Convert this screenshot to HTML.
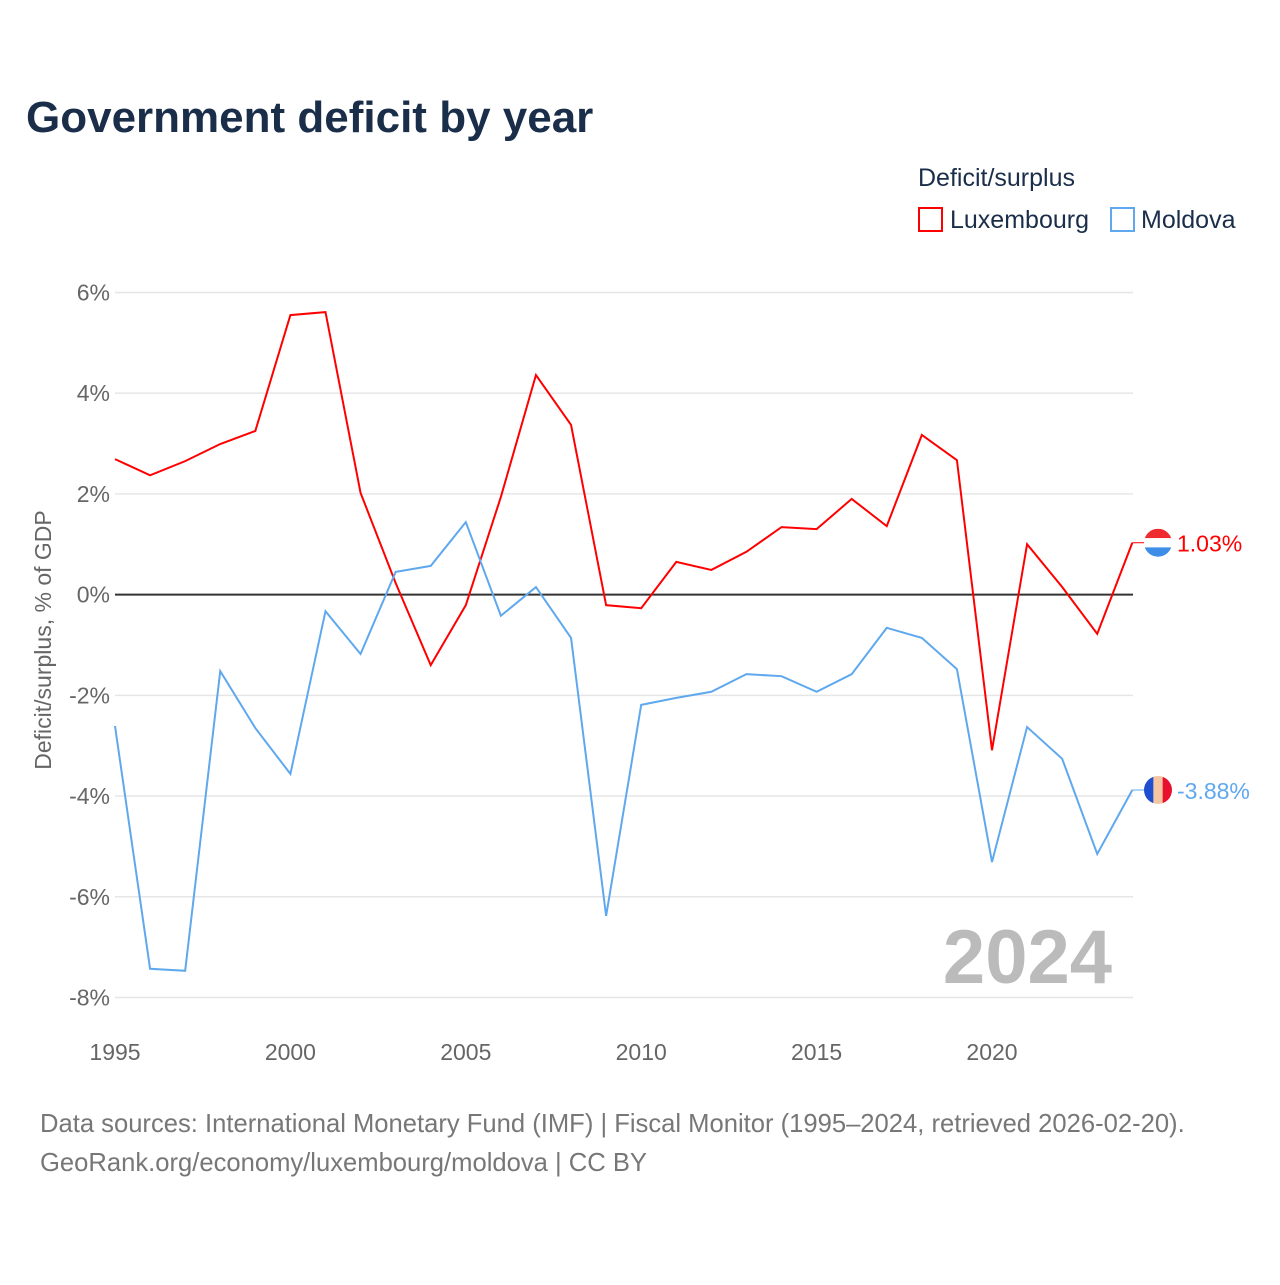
<!DOCTYPE html>
<html><head><meta charset="utf-8"><style>
body{margin:0;background:#fff;font-family:"Liberation Sans",sans-serif}
</style></head><body>
<svg id="c" width="1280" height="1280" xmlns="http://www.w3.org/2000/svg">
<defs>
<clipPath id="fc1"><circle cx="1158" cy="542.7" r="14"/></clipPath>
<clipPath id="fc2"><circle cx="1158" cy="790" r="14"/></clipPath>
</defs>
<text x="26" y="132" font-size="44" font-weight="bold" fill="#1a2e4a">Government deficit by year</text>
<text x="918" y="186" font-size="25" fill="#1a2e4a">Deficit/surplus</text>
<g><rect x="919" y="208" width="23" height="23" fill="none" stroke="#f00" stroke-width="2"/><text x="950" y="228" font-size="25" fill="#1a2e4a">Luxembourg</text></g>
<g><rect x="1111" y="208" width="23" height="23" fill="none" stroke="#5fa8ee" stroke-width="2"/><text x="1141" y="228" font-size="25" fill="#1a2e4a">Moldova</text></g>
<g id="grid"></g><g id="series"></g>
<text transform="translate(51,640) rotate(-90)" text-anchor="middle" font-size="23" fill="#666">Deficit/surplus, % of GDP</text>
<text x="1112" y="983" text-anchor="end" font-size="76" font-weight="bold" fill="#bbb">2024</text>
<text x="40" y="1132" font-size="25.6" fill="#777">Data sources: International Monetary Fund (IMF) | Fiscal Monitor (1995–2024, retrieved 2026-02-20).</text>
<text x="40" y="1171" font-size="25.6" fill="#777">GeoRank.org/economy/luxembourg/moldova | CC BY</text>
</svg>
<script>
const years=[];for(let y=1995;y<=2024;y++)years.push(y);
const luxembourg=[2.69,2.37,2.65,2.99,3.25,5.55,5.61,2.02,0.23,-1.40,-0.21,1.94,4.36,3.37,-0.21,-0.27,0.65,0.49,0.85,1.34,1.30,1.90,1.36,3.17,2.67,-3.09,1.0,0.15,-0.78,1.03];
const moldova=[-2.61,-7.43,-7.47,-1.52,-2.65,-3.56,-0.33,-1.18,0.45,0.57,1.44,-0.42,0.15,-0.86,-6.38,-2.19,-2.05,-1.93,-1.58,-1.62,-1.93,-1.58,-0.66,-0.86,-1.48,-5.31,-2.63,-3.26,-5.15,-3.88];
const yTicks=[6,4,2,0,-2,-4,-6,-8];
const xTicks=[1995,2000,2005,2010,2015,2020];
const NS="http://www.w3.org/2000/svg";
const X=v=>115+(v-1995)*(877/25);
const Y=v=>594.6-v*50.36;
function mk(t,a,p){const e=document.createElementNS(NS,t);for(const k in a)e.setAttribute(k,a[k]);p.appendChild(e);return e;}
const g=document.getElementById('grid');
yTicks.forEach(t=>{
 const l=mk('line',{x1:115,x2:1133,y1:Y(t),y2:Y(t),stroke:t===0?'#333':'#e6e6e6','stroke-width':t===0?2:1.5},g);
 
 
 const tx=mk('text',{x:110,y:Y(t)+8,'text-anchor':'end','font-size':23,fill:'#666'},g);
 tx.textContent=t+'%';
 
 
});
xTicks.forEach(t=>{
 const tx=mk('text',{x:X(t),y:1060,'text-anchor':'middle','font-size':23,fill:'#666'},g);
 tx.textContent=t;
 
 
});
const s=document.getElementById('series');
function line(data,col,name,stripes,vertical){
 const p=mk('polyline',{points:data.map((v,i)=>X(years[i])+','+Y(v)).join(' '),fill:'none',stroke:col,'stroke-width':2},s);
 
 
 const last=data[data.length-1];
 const cy=Y(last);
 mk('line',{x1:X(2024),x2:1144,y1:cy,y2:cy,stroke:col,'stroke-width':1},s);
 const cid='fc'+name;
 const cp=mk('clipPath',{id:cid},s);mk('circle',{cx:1158,cy:cy,r:14},cp);
 const fg=mk('g',{'clip-path':'url(#'+cid+')'},s);
 
 
 stripes.forEach((c,i)=>{
  if(vertical)mk('rect',{x:1144+i*28/3,y:cy-14,width:28/3+0.5,height:28,fill:c},fg);
  else mk('rect',{x:1144,y:cy-14+i*28/3,width:28,height:28/3+0.5,fill:c},fg);
 });
 const tx=mk('text',{x:1177,y:cy+9,'font-size':23,fill:col},s);
 tx.textContent=last.toFixed(2)+'%';
 
 
}
line(luxembourg,'#ff0000','luxembourg',['#ef2b2d','#ffffff','#3e8ee8'],false);
line(moldova,'#5fa8ee','moldova',['#1f4fd0','#f5c4a0','#e8112d'],true);
</script>
</body></html>
